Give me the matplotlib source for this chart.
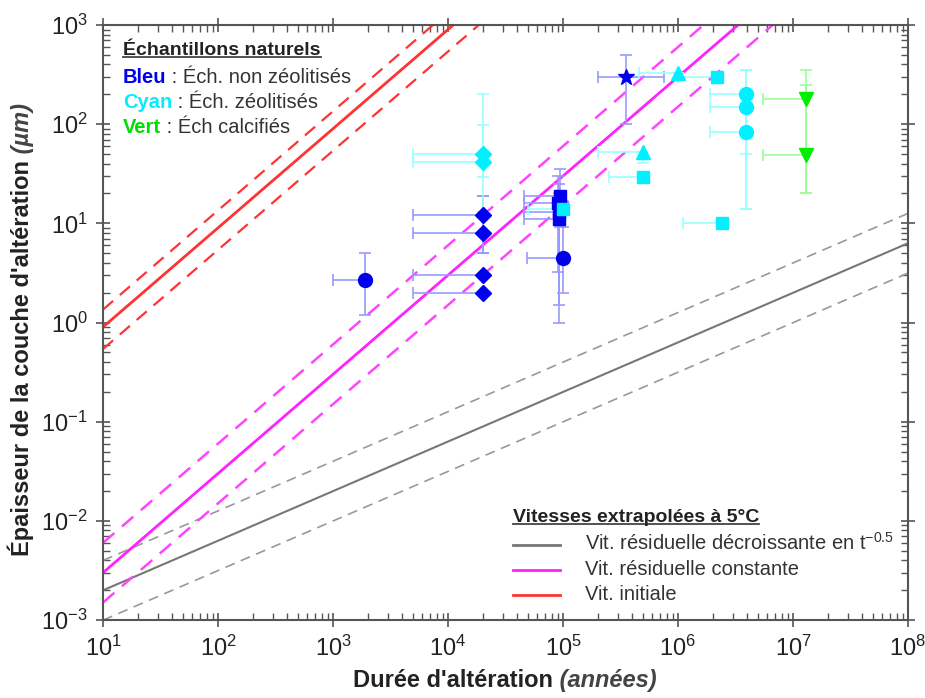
import numpy as np
import matplotlib
matplotlib.use("Agg")
import matplotlib.pyplot as plt
from matplotlib.lines import Line2D
from matplotlib.font_manager import FontProperties

plt.rcParams['font.family'] = ['Liberation Sans', 'DejaVu Sans']
plt.rcParams['mathtext.fontset'] = 'custom'
plt.rcParams['mathtext.rm'] = 'Liberation Sans'
plt.rcParams['mathtext.it'] = 'Liberation Sans:italic'
plt.rcParams['mathtext.bf'] = 'Liberation Sans:bold'
plt.rcParams['axes.unicode_minus'] = False

# modelled rates (thickness in um vs time in years)
gray_coef = 6.3e-4      # t^0.5
magenta_coef = 3.0e-4   # t^1
red_coef = 0.09         # t^1
band_factor = [0.5, 2.0]
red_band_factor = [0.6, 1.5]

# blue samples: non zeolitised
blue_marker = ['o', 'D', 'D', 'D', 'D', 's', 's', 's', 's', 'o', '*']
blue_x = [1.9e3, 2e4, 2e4, 2e4, 2e4, 9.5e4, 9.0e4, 9.3e4, 9.3e4, 1.0e5, 3.5e5]
blue_y = [2.7, 12, 8, 3, 2, 19, 16, 13, 11, 4.5, 300]
blue_xlo = [1.0e3, 5e3, 5e3, 5e3, 5e3, 4.6e4, 4.6e4, 4.6e4, 4.6e4, 4.9e4, 2e5]
blue_xhi = [1.9e3, 2e4, 2e4, 2e4, 2e4, 9.5e4, 9.0e4, 9.3e4, 9.3e4, 1.0e5, 7.5e5]
blue_ylo = [1.2, 5, 5, 3, 2, 9.2, 3.2, 1.5, 1.0, 2.0, 100]
blue_yhi = [5, 19, 19, 3, 2, 35, 30, 25, 20, 9.2, 500]

# cyan samples: zeolitised
cyan_marker = ['D', 'D', 's', '^', 's', '^', 's', 's', 'o', 'o', 'o']
cyan_x = [2e4, 2e4, 1.0e5, 1.0e6, 2.2e6, 5e5, 5e5, 2.4e6, 3.9e6, 3.9e6, 3.9e6]
cyan_y = [50, 42, 14, 330, 300, 52, 29, 10, 200, 150, 83]
cyan_xlo = [5e3, 5e3, 5e4, 4.6e5, 1.0e6, 2e5, 2.5e5, 1.1e6, 1.9e6, 1.9e6, 1.9e6]
cyan_ylo = [29, 13, 14, 330, 300, 41, 29, 10, 50, 14, 14]
cyan_yhi = [200, 97, 14, 330, 300, 52, 29, 10, 350, 350, 200]

# green samples: calcified
green_marker = ['v', 'v']
green_x = [1.3e7, 1.3e7]
green_y = [180, 49]
green_xlo = [5.5e6, 5.5e6]
green_ylo = [20, 20]
green_yhi = [350, 250]

fig = plt.figure(figsize=(9.25, 6.98), dpi=100)
ax = fig.add_axes([103/925, 1-620/698, 805/925, 595/698])
ax.set_xscale('log')
ax.set_yscale('log')
ax.set_xlim(10, 1e8)
ax.set_ylim(1e-3, 1e3)
ax.xaxis.label.set_visible(False)
ax.yaxis.label.set_visible(False)

t = np.logspace(1, 8, 200)
dash = (0, (6, 4))
ax.plot(t, gray_coef*t**0.5, color='#777777', lw=1.5)
for f in band_factor:
    ax.plot(t, f*gray_coef*t**0.5, color='#999999', lw=1.2, ls=dash)
ax.plot(t, magenta_coef*t, color='#ff22ff', lw=2)
for f in band_factor:
    ax.plot(t, f*magenta_coef*t, color='#ff44ff', lw=1.8, ls=dash)
ax.plot(t, red_coef*t, color='#ff3333', lw=2)
for f in red_band_factor:
    ax.plot(t, f*red_coef*t, color='#ff3333', lw=1.6, ls=dash)

def draw_group(mk, x, y, xlo, xhi, ylo, yhi, color, ecolor, sizes):
    for i in range(len(x)):
        ax.errorbar([x[i]], [y[i]],
                    xerr=[[x[i]-xlo[i]], [xhi[i]-x[i]]],
                    yerr=[[y[i]-ylo[i]], [yhi[i]-y[i]]],
                    fmt=mk[i], color=color, ecolor=ecolor, elinewidth=1.2,
                    capsize=4, capthick=1.2, ms=sizes.get(mk[i], 9),
                    mec=color, zorder=3)

sizes = {'o': 10, 'D': 8, 's': 8.5, '^': 10, 'v': 10, '*': 12}
draw_group(blue_marker, blue_x, blue_y, blue_xlo, blue_xhi, blue_ylo, blue_yhi,
           '#0000ee', '#9999ff', sizes)
draw_group(cyan_marker, cyan_x, cyan_y, cyan_xlo, cyan_x, cyan_ylo, cyan_yhi,
           '#00f0ff', '#99ffff', sizes)
draw_group(green_marker, green_x, green_y, green_xlo, green_x, green_ylo, green_yhi,
           '#00ee00', '#99ff99', sizes)

for s in ax.spines.values():
    s.set_color('#555555')
    s.set_linewidth(1.5)
ax.tick_params(which='major', direction='inout', length=10, width=1.2,
               colors='#555555', labelcolor='#222222', labelsize=17,
               top=True, right=True, pad=6)
ax.tick_params(which='minor', direction='in', length=5, width=1,
               colors='#555555', top=True, right=True)
ax.xaxis.set_major_locator(matplotlib.ticker.LogLocator(base=10, numticks=20))
ax.xaxis.set_minor_locator(matplotlib.ticker.LogLocator(base=10, subs=np.arange(2, 10), numticks=20))
ax.yaxis.set_major_locator(matplotlib.ticker.LogLocator(base=10, numticks=20))
ax.yaxis.set_minor_locator(matplotlib.ticker.LogLocator(base=10, subs=np.arange(2, 10), numticks=20))

fs = 14.5
fsb = 14
W, H = 925.0, 698.0
fig.canvas.draw()
r = fig.canvas.get_renderer()

def width_px(s, size, weight='normal', style='normal'):
    fp = FontProperties(family=['Liberation Sans'], size=size, weight=weight, style=style)
    w, h, d = r.get_text_width_height_descent(s, fp, ismath=False)
    return w

# axis labels (bold + bold italic), centred as a pair
lab_a = "Durée d'altération"
lab_b = " (années)"
wa = width_px(lab_a, 17, 'bold')
wb = width_px(lab_b, 17, 'bold', 'italic')
x0 = 505 - (wa + wb)/2
fig.text(x0/W, 1-687/H, lab_a, fontsize=17, fontweight='bold', color='#222222',
         ha='left', va='baseline')
fig.text((x0+wa)/W, 1-687/H, lab_b, fontsize=17, fontweight='bold', fontstyle='italic',
         color='#444444', ha='left', va='baseline')

lab_a = "Épaisseur de la couche d'altération"
lab_b = " (µm)"
wa = width_px(lab_a, 17, 'bold')
wb = width_px(lab_b, 17, 'bold', 'italic')
y0 = 330 + (wa + wb)/2
fig.text(29/W, 1-y0/H, lab_a, fontsize=17, fontweight='bold', color='#222222',
         rotation=90, rotation_mode='anchor', ha='left', va='baseline')
fig.text(29/W, 1-(y0-wa)/H, lab_b, fontsize=17, fontweight='bold', fontstyle='italic',
         color='#444444', rotation=90, rotation_mode='anchor', ha='left', va='baseline')

# legend: natural samples
h1 = fig.text(123/W, 1-55/H, "Échantillons naturels", fontsize=fsb,
              fontweight='bold', color='#222222', va='baseline')
rows = [("Bleu", '#0000ee', " : Éch. non zéolitisés"),
        ("Cyan", '#00eeff', " : Éch. zéolitisés"),
        ("Vert", '#00dd00', " : Éch calcifiés")]
for k, (w, c, rest) in enumerate(rows):
    yy = 1 - (83 + k*25)/H
    fig.text(123/W, yy, w, fontsize=fs, fontweight='bold', color=c, va='baseline')
    ww = width_px(w, fs, 'bold')
    fig.text((123 + ww)/W, yy, rest, fontsize=fs, color='#333333', va='baseline')

# legend: extrapolated rates
h2 = fig.text(513/W, 1-522/H, "Vitesses extrapolées à 5°C", fontsize=fsb,
              fontweight='bold', color='#222222', va='baseline')
leg_rows = [('#777777', "Vit. résiduelle décroissante en t$^{-0.5}$"),
            ('#ff22ff', "Vit. résiduelle constante"),
            ('#ff3333', "Vit. initiale")]
for k, (c, lab) in enumerate(leg_rows):
    yp = 545 + k*25
    fig.add_artist(Line2D([513/W, 560/W], [1-yp/H, 1-yp/H], color=c, lw=2))
    fig.text(585/W, 1-(yp+5)/H, lab, fontsize=fs, color='#333333', va='baseline')

# underline the legend headings
fig.canvas.draw()
for h in (h1, h2):
    bb = h.get_window_extent(r)
    ux0, ux1 = bb.x0/W, bb.x1/W
    uy = (bb.y0 + 2)/H
    fig.add_artist(Line2D([ux0, ux1], [uy, uy], color='#444444', lw=1.3))

fig.savefig("out.png", dpi=100)
